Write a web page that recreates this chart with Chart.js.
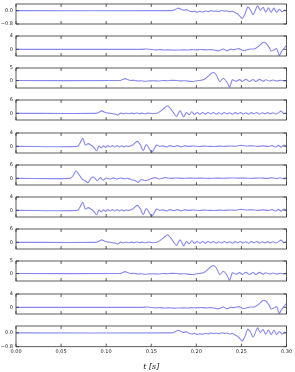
<!DOCTYPE html>
<html>
<head>
<meta charset="utf-8">
<script src="https://cdn.jsdelivr.net/npm/chart.js@4.4.1/dist/chart.umd.min.js"></script>
<style>
  body { margin: 0; background: #fff; }
  #wrap { position: relative; width: 295px; height: 372px; overflow: hidden; }
  #wrap canvas { position: absolute; left: 0; }
</style>
</head>
<body>
<div id="wrap"></div>
<script>
// Waveforms (time in s, amplitude)
const tA = [0, 0.173, 0.177, 0.180, 0.183, 0.186, 0.189, 0.192, 0.195, 0.198, 0.201, 0.204, 0.207, 0.210, 0.213, 0.216, 0.219, 0.222, 0.225, 0.228, 0.231, 0.234, 0.237, 0.240, 0.243, 0.246, 0.249, 0.251, 0.254, 0.257, 0.260, 0.263, 0.266, 0.268, 0.271, 0.274, 0.277, 0.280, 0.283, 0.286, 0.289, 0.292, 0.295, 0.298, 0.300];
const vA = [0, 0, 0.08, 0.15, 0.08, 0.03, 0.06, -0.02, -0.06, -0.03, -0.09, -0.04, -0.08, -0.02, -0.06, 0.0, -0.04, -0.01, -0.05, 0.01, -0.03, -0.01, -0.06, -0.03, -0.12, -0.2, -0.38, -0.47, -0.2, 0.22, 0.05, -0.24, 0.1, 0.29, 0.02, 0.2, -0.08, 0.17, -0.1, 0.15, -0.1, 0.08, -0.06, 0.03, 0.0];

const tB = [0, 0.140, 0.145, 0.150, 0.155, 0.160, 0.165, 0.170, 0.175, 0.180, 0.185, 0.190, 0.195, 0.200, 0.205, 0.210, 0.215, 0.220, 0.224, 0.227, 0.230, 0.234, 0.238, 0.241, 0.244, 0.247, 0.250, 0.253, 0.257, 0.261, 0.265, 0.269, 0.273, 0.275, 0.278, 0.281, 0.283, 0.286, 0.289, 0.292, 0.294, 0.297, 0.300];
const vB = [0, 0, 0.1, -0.05, -0.15, -0.1, -0.2, -0.15, -0.25, -0.2, -0.15, -0.2, -0.1, -0.15, -0.05, -0.15, -0.1, -0.2, -0.45, -0.2, 0.1, -0.45, 0.05, -0.1, 0.05, 0.2, -0.1, -0.35, -0.05, 0.1, 0.15, 0.9, 1.9, 2.1, 1.6, 0.5, -0.5, -0.2, 0.2, -1.8, -0.9, 0.2, 1.2];

const tC = [0, 0.115, 0.118, 0.121, 0.124, 0.127, 0.131, 0.135, 0.139, 0.143, 0.148, 0.153, 0.158, 0.163, 0.168, 0.173, 0.178, 0.183, 0.188, 0.193, 0.197, 0.201, 0.205, 0.209, 0.213, 0.216, 0.219, 0.222, 0.226, 0.230, 0.234, 0.237, 0.240, 0.244, 0.248, 0.251, 0.255, 0.259, 0.263, 0.266, 0.270, 0.274, 0.277, 0.281, 0.285, 0.289, 0.293, 0.297, 0.300];
const vC = [0, 0, 0.4, 0.75, 0.3, 0.0, 0.1, -0.2, -0.1, -0.3, -0.15, -0.1, -0.2, 0.0, -0.1, 0.05, 0.0, -0.15, -0.1, -0.35, -0.4, -0.1, 0.1, 0.5, 1.7, 2.7, 3.2, 2.3, -0.4, 0.9, -0.7, -2.6, 0.3, -0.3, 0.35, -0.35, 0.45, -0.4, 0.4, -0.4, 0.45, -0.3, 0.3, -0.2, 0.2, -0.2, 0.1, -0.15, 0.0];

const tD = [0, 0.089, 0.092, 0.095, 0.099, 0.103, 0.107, 0.110, 0.113, 0.116, 0.119, 0.122, 0.125, 0.128, 0.131, 0.134, 0.137, 0.140, 0.143, 0.146, 0.149, 0.152, 0.156, 0.160, 0.164, 0.168, 0.172, 0.175, 0.178, 0.182, 0.186, 0.189, 0.192, 0.195, 0.198, 0.201, 0.204, 0.207, 0.210, 0.213, 0.216, 0.219, 0.222, 0.225, 0.228, 0.231, 0.234, 0.237, 0.240, 0.243, 0.246, 0.249, 0.252, 0.255, 0.258, 0.261, 0.264, 0.267, 0.270, 0.273, 0.276, 0.279, 0.282, 0.285, 0.288, 0.291, 0.294, 0.297, 0.300];
const vD = [0, 0, 0.5, 1.1, 0.4, 0.1, -0.2, -0.3, -0.8, 0.1, -0.25, 0.15, -0.2, 0.1, -0.15, 0.15, -0.15, 0.1, -0.2, 0.1, 0.0, -0.2, 0.0, 0.9, 2.2, 3.4, 1.8, 0.0, -1.4, 1.1, -1.6, 0.4, -0.7, 0.7, -0.5, 0.4, -0.4, 0.35, -0.35, 0.4, -0.25, 0.35, -0.4, 0.25, -0.3, 0.4, -0.25, 0.25, -0.4, 0.3, -0.25, 0.4, -0.3, 0.25, -0.4, 0.3, -0.25, 0.4, -0.3, 0.25, -0.25, 0.3, -0.25, 0.25, -0.3, 0.2, 1.0, -0.2, 0.3];

const tE = [0, 0.068, 0.071, 0.074, 0.077, 0.080, 0.083, 0.086, 0.0895, 0.092, 0.0945, 0.097, 0.0995, 0.102, 0.1045, 0.107, 0.1095, 0.112, 0.1145, 0.117, 0.1195, 0.122, 0.125, 0.1295, 0.1345, 0.138, 0.141, 0.1445, 0.148, 0.1505, 0.156, 0.159, 0.163, 0.167, 0.171, 0.175, 0.179, 0.183, 0.187, 0.192, 0.197, 0.202, 0.208, 0.214, 0.220, 0.226, 0.232, 0.238, 0.244, 0.250, 0.256, 0.262, 0.268, 0.274, 0.280, 0.284, 0.288, 0.291, 0.294, 0.297, 0.300];
const vE = [0, 0, 1.0, 2.4, 0.4, 0.8, 0.4, -0.2, -1.3, 0.1, -0.5, 0.15, -0.3, 0.2, -0.2, 0.2, -0.2, 0.2, -0.2, 0.15, -0.15, 0.1, 0.0, 0.4, 1.5, 0.4, -1.3, 0.55, -0.8, -1.75, 0.4, 0.0, 0.15, -0.15, 0.2, -0.1, 0.2, -0.15, 0.15, 0.0, 0.1, -0.05, 0.05, 0.0, -0.05, 0.05, 0.0, 0.1, 0.05, 0.3, 0.1, 0.15, 0.0, 0.15, -0.05, 0.2, -0.2, 0.3, -0.25, 0.35, 0.05];

const tF = [0, 0.060, 0.063, 0.0665, 0.070, 0.0735, 0.0765, 0.080, 0.083, 0.0865, 0.090, 0.0935, 0.0965, 0.100, 0.104, 0.108, 0.112, 0.116, 0.120, 0.124, 0.128, 0.132, 0.1355, 0.139, 0.143, 0.149, 0.154, 0.159, 0.165, 0.171, 0.177, 0.184, 0.191, 0.198, 0.206, 0.214, 0.222, 0.230, 0.238, 0.246, 0.254, 0.262, 0.270, 0.278, 0.284, 0.289, 0.293, 0.297, 0.300];
const vF = [0, 0, 1.0, 3.3, 1.6, -0.4, -1.1, -1.9, 0.0, 0.5, -1.1, 0.3, -0.8, 0.15, -0.3, 0.2, -0.3, 0.15, -0.2, 0.0, -0.6, -1.0, -1.8, -0.5, -1.1, -0.3, 0.3, -0.3, 0.3, 0.0, 0.15, 0.0, 0.1, 0.05, 0.1, 0.0, 0.1, 0.05, 0.15, 0.1, 0.1, 0.0, 0.15, 0.0, 0.2, -0.15, 0.25, -0.2, 0.1];

// one entry per subplot, top to bottom
const panelWaves = [[tA, vA], [tB, vB], [tC, vC], [tD, vD], [tE, vE], [tF, vF], [tE, vE], [tD, vD], [tC, vC], [tB, vB], [tA, vA]];
const panelMin = [-0.8, -2, -3, -3, -2, -3, -2, -3, -3, -2, -0.8];
const panelMax = [0.4, 4, 5, 6, 4, 6, 4, 6, 5, 4, 0.4];
const panelTicks = [[-0.8, 0], [0, 4], [0, 5], [0, 6], [0, 4], [0, 6], [0, 4], [0, 6], [0, 5], [0, 4], [-0.8, 0]];
const xTicks = [0, 0.05, 0.10, 0.15, 0.20, 0.25, 0.30];
const xLabel = 't [s]';

const TOP0 = 2.7, STEP = 32.2, PANEL_H = 21.7, PAD = 5;
const FONT = 'DejaVu Sans';

// frame + inward ticks like matplotlib
const frameTicks = {
    id: 'frameTicks',
    afterDatasetsDraw(chart) {
        const {ctx, chartArea: a, scales: {x, y}} = chart;
        ctx.save();
        ctx.strokeStyle = '#333';
        ctx.lineWidth = 0.8;
        ctx.beginPath();
        xTicks.forEach(v => {
            const px = x.getPixelForValue(v);
            ctx.moveTo(px, a.top); ctx.lineTo(px, a.top + 3);
            ctx.moveTo(px, a.bottom); ctx.lineTo(px, a.bottom - 3);
        });
        y.ticks.forEach(t => {
            const py = y.getPixelForValue(t.value);
            ctx.moveTo(a.left, py); ctx.lineTo(a.left + 3, py);
            ctx.moveTo(a.right, py); ctx.lineTo(a.right - 3, py);
        });
        ctx.stroke();
        ctx.strokeRect(a.left, a.top, a.right - a.left, a.bottom - a.top);
        ctx.restore();
    }
};

const wrap = document.getElementById('wrap');
const last = panelWaves.length - 1;

panelWaves.forEach(([ts, vs], i) => {
    const isLast = i === last;
    const top = TOP0 + STEP * i - PAD;
    const h = isLast ? 372 - top : PANEL_H + 2 * PAD;
    const canvas = document.createElement('canvas');
    canvas.width = 295;
    canvas.height = Math.round(h);
    canvas.style.top = top + 'px';
    wrap.appendChild(canvas);

    new Chart(canvas.getContext('2d'), {
        type: 'line',
        data: {
            datasets: [{
                data: ts.map((t, k) => ({x: t, y: vs[k]})),
                borderColor: 'rgba(80,80,228,0.68)',
                borderWidth: 1.1,
                pointRadius: 0,
                tension: 0.3
            }]
        },
        options: {
            responsive: false,
            animation: false,
            events: [],
            layout: {padding: {top: PAD, bottom: isLast ? 0 : PAD, left: 0, right: 8.5}},
            plugins: {legend: {display: false}, tooltip: {enabled: false}},
            scales: {
                x: {
                    type: 'linear',
                    min: 0,
                    max: 0.3,
                    grid: {display: false, drawTicks: false},
                    border: {display: false},
                    afterBuildTicks: s => { s.ticks = xTicks.map(v => ({value: v})); },
                    afterFit: s => { s.height = isLast ? canvas.height - PAD - PANEL_H : 0; },
                    ticks: {
                        display: isLast,
                        padding: 2,
                        maxRotation: 0,
                        autoSkip: false,
                        color: '#222',
                        font: {family: FONT, size: 5},
                        callback: v => v.toFixed(2)
                    },
                    title: {
                        display: isLast,
                        text: xLabel,
                        color: '#222',
                        padding: {top: 0, bottom: 0},
                        font: {family: 'DejaVu Serif', size: 8, style: 'italic'}
                    }
                },
                y: {
                    min: panelMin[i],
                    max: panelMax[i],
                    grid: {display: false, drawTicks: false},
                    border: {display: false},
                    afterBuildTicks: s => { s.ticks = panelTicks[i].map(v => ({value: v})); },
                    afterFit: s => { s.width = 16; },
                    ticks: {
                        padding: 3,
                        color: '#222',
                        font: {family: FONT, size: 5},
                        callback: v => (Math.abs(panelMax[i]) < 1 ? v.toFixed(1) : String(v)).replace('-', '\u2212')
                    }
                }
            }
        },
        plugins: [frameTicks]
    });
});
</script>
</body>
</html>
